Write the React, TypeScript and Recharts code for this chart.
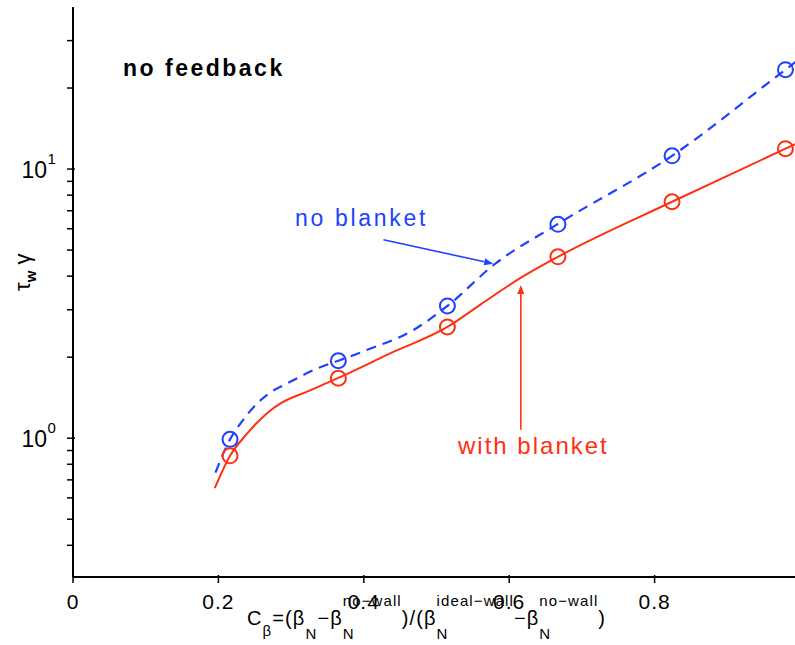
import React from 'react';
import { ComposedChart, Line, Scatter, XAxis, YAxis, ReferenceLine } from 'recharts';

// computed points (circles)
const cb = [0.216, 0.365, 0.515, 0.667, 0.824, 0.98];
const tauNoBlanket = [0.99, 1.94, 3.1, 6.23, 11.2, 23.4];
const tauWithBlanket = [0.86, 1.67, 2.59, 4.72, 7.56, 11.9];

// fitted curves
const noBlanketCurveX = [0.196, 0.216, 0.231, 0.249, 0.27, 0.295, 0.341, 0.365, 0.405, 0.469, 0.515, 0.579, 0.666, 0.824, 0.98, 1.0];
const noBlanketCurveY = [0.745, 0.99, 1.14, 1.31, 1.47, 1.6, 1.84, 1.94, 2.13, 2.53, 3.1, 4.41, 6.23, 11.2, 23.4, 25.7];
const withBlanketCurveX = [0.195, 0.216, 0.24, 0.267, 0.286, 0.322, 0.365, 0.437, 0.515, 0.56, 0.615, 0.667, 0.824, 0.98, 1.0];
const withBlanketCurveY = [0.652, 0.86, 1.044, 1.239, 1.349, 1.49, 1.675, 2.07, 2.59, 3.13, 3.93, 4.72, 7.56, 11.9, 12.6];

const xTicks = [0, 0.2, 0.4, 0.6, 0.8, 1];
const yTicks = [0.4, 0.5, 0.6, 0.7, 0.8, 0.9, 1, 2, 3, 4, 5, 6, 7, 8, 9, 10, 20, 30];
const yMajor = [1, 10];

const BLUE = '#2040ff';
const RED = '#ff3010';

const toPoints = (xs: number[], ys: number[]) => xs.map((x, i) => ({ x, y: ys[i] }));

const noBlanketDots = toPoints(cb, tauNoBlanket);
const withBlanketDots = toPoints(cb, tauWithBlanket);
const noBlanketCurve = toPoints(noBlanketCurveX, noBlanketCurveY);
const withBlanketCurve = toPoints(withBlanketCurveX, withBlanketCurveY);

const BottomTick = ({ x, y, payload }: any) => (
  <g>
    <line x1={x} x2={x} y1={y} y2={y - 8} stroke="#000" strokeWidth={1.5} />
    <text x={x} y={y + 26} textAnchor="middle" fontSize={21} letterSpacing={1} fill="#000">
      {payload.value}
    </text>
  </g>
);

const TopTick = ({ x, y }: any) => (
  <line x1={x} x2={x} y1={y} y2={y + 8} stroke="#000" strokeWidth={1.5} />
);

const LeftTick = ({ x, y, payload }: any) => {
  const major = yMajor.includes(payload.value);
  return (
    <g>
      <line x1={x} x2={x + (major ? 8 : 6)} y1={y} y2={y} stroke="#000" strokeWidth={1.5} />
      {major && (
        <>
          <text x={x - 20} y={y + 8.5} textAnchor="end" fontSize={23} fill="#000">10</text>
          <text x={x - 19.5} y={y - 5} fontSize={15} fill="#000">
            {Math.round(Math.log10(payload.value))}
          </text>
        </>
      )}
    </g>
  );
};

const RightTick = ({ x, y, payload }: any) => {
  const major = yMajor.includes(payload.value);
  return <line x1={x} x2={x - (major ? 8 : 6)} y1={y} y2={y} stroke="#000" strokeWidth={1.5} />;
};

const ring = (color: string) => (props: any) => (
  <circle cx={props.cx} cy={props.cy} r={7.5} fill="none" stroke={color} strokeWidth={2} />
);

const arrow = (color: string) => (props: any) => {
  const { x1, y1, x2, y2 } = props;
  const a = Math.atan2(y2 - y1, x2 - x1);
  const len = 9;
  const half = 3.5;
  const bx = x2 - len * Math.cos(a);
  const by = y2 - len * Math.sin(a);
  const px = -Math.sin(a) * half;
  const py = Math.cos(a) * half;
  return (
    <g>
      <line x1={x1} y1={y1} x2={bx} y2={by} stroke={color} strokeWidth={1.6} />
      <polygon points={`${x2},${y2} ${bx + px},${by + py} ${bx - px},${by - py}`} fill={color} />
    </g>
  );
};

const axisLine = { stroke: '#000', strokeWidth: 2 };

export default function App() {
  return (
    <div
      style={{
        position: 'absolute',
        left: 0,
        top: 0,
        width: 795,
        height: 645,
        overflow: 'hidden',
        background: '#fff',
        fontFamily: '"Liberation Sans", Arial, sans-serif',
      }}
    >
      <ComposedChart width={830} height={645} margin={{ top: 7, right: 30, bottom: 0, left: 0 }}>
        <XAxis
          dataKey="x"
          type="number"
          domain={[0, 1]}
          ticks={xTicks}
          interval={0}
          height={68}
          tickLine={false}
          tickMargin={0}
          axisLine={axisLine}
          tick={BottomTick}
          allowDataOverflow
        />
        <XAxis
          xAxisId="top"
          orientation="top"
          dataKey="x"
          type="number"
          domain={[0, 1]}
          ticks={xTicks}
          interval={0}
          height={0}
          tickLine={false}
          tickMargin={0}
          axisLine={axisLine}
          tick={TopTick}
          allowDataOverflow
        />
        <YAxis
          dataKey="y"
          type="number"
          scale="log"
          domain={[0.305, 40]}
          ticks={yTicks}
          interval={0}
          width={73}
          tickLine={false}
          tickMargin={0}
          axisLine={axisLine}
          tick={LeftTick}
          allowDataOverflow
        />
        <YAxis
          yAxisId="right"
          orientation="right"
          dataKey="y"
          type="number"
          scale="log"
          domain={[0.305, 40]}
          ticks={yTicks}
          interval={0}
          width={0}
          tickLine={false}
          tickMargin={0}
          axisLine={axisLine}
          tick={RightTick}
          allowDataOverflow
        />

        <Line
          data={noBlanketCurve}
          dataKey="y"
          type="monotone"
          stroke={BLUE}
          strokeWidth={2.2}
          strokeDasharray="10 7"
          dot={false}
          activeDot={false}
          isAnimationActive={false}
        />
        <Line
          data={withBlanketCurve}
          dataKey="y"
          type="monotone"
          stroke={RED}
          strokeWidth={2}
          dot={false}
          activeDot={false}
          isAnimationActive={false}
        />
        <Scatter data={noBlanketDots} dataKey="y" shape={ring(BLUE)} isAnimationActive={false} />
        <Scatter data={withBlanketDots} dataKey="y" shape={ring(RED)} isAnimationActive={false} />

        <ReferenceLine segment={[{ x: 0.427, y: 5.46 }, { x: 0.578, y: 4.45 }]} shape={arrow(BLUE)} />
        <ReferenceLine segment={[{ x: 0.616, y: 1.074 }, { x: 0.616, y: 3.71 }]} shape={arrow(RED)} />

        <text x={123} y={76} fontSize={23} fontWeight="bold" letterSpacing={2.5} fill="#000">
          no feedback
        </text>
        <text x={295} y={226} fontSize={23} letterSpacing={2.7} fill={BLUE}>
          no blanket
        </text>
        <text x={458} y={454} fontSize={24} letterSpacing={2} fill={RED}>
          with blanket
        </text>

        <text transform="translate(30,291) rotate(-90)" fontSize={22} fill="#000">
          τ
          <tspan fontSize={15} dy={6} fontWeight="bold">w</tspan>
          <tspan dy={-6}> γ</tspan>
        </text>

        <text x={247} y={625} fontSize={20} letterSpacing={1.1} fill="#000">
          C
          <tspan fontSize={15} dy={11}>β</tspan>
          <tspan fontSize={20} dy={-11}>=(β</tspan>
          <tspan fontSize={15} dy={14}>N</tspan>
          <tspan fontSize={20} dy={-14}>−β</tspan>
          <tspan fontSize={15} dy={14}>N</tspan>
          <tspan fontSize={15} dx={-11.9} dy={-33}>no−wall</tspan>
          <tspan fontSize={20} dy={19}>)/(β</tspan>
          <tspan fontSize={15} dy={14}>N</tspan>
          <tspan fontSize={15} dx={-11.9} dy={-33}>ideal−wall</tspan>
          <tspan fontSize={20} dy={19}>−β</tspan>
          <tspan fontSize={15} dy={14}>N</tspan>
          <tspan fontSize={15} dx={-11.9} dy={-33}>no−wall</tspan>
          <tspan fontSize={20} dy={19}>)</tspan>
        </text>
      </ComposedChart>
    </div>
  );
}
